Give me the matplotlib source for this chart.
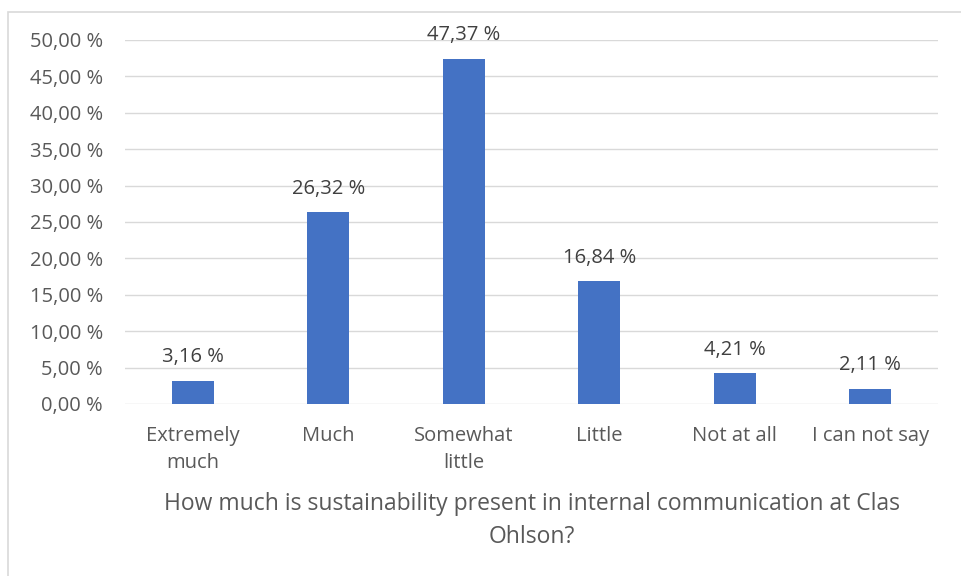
import matplotlib.pyplot as plt
from matplotlib.patches import Rectangle

categories = ['Extremely\nmuch', 'Much', 'Somewhat\nlittle', 'Little', 'Not at all', 'I can not say']
values = [3.16, 26.32, 47.37, 16.84, 4.21, 2.11]
yticks = [0, 5, 10, 15, 20, 25, 30, 35, 40, 45, 50]

plt.rcParams['font.family'] = ['Open Sans', 'DejaVu Sans']
txt = '#595959'

W, H = 961, 576
fig = plt.figure(figsize=(W / 100, H / 100), dpi=100)
fig.patches.append(Rectangle((8 / W, -0.1), 1.2, 1 - 12 / H + 0.1, transform=fig.transFigure,
                             fill=False, edgecolor='#d9d9d9', linewidth=1.2))

ax = fig.add_axes([125 / W, 1 - 404 / H, (938 - 125) / W, (404 - 40) / H])
x = range(len(categories))
ax.bar(x, values, width=0.31, color='#4472C4', zorder=3)
for i, v in enumerate(values):
    ax.text(i, v + 1.9, f'{v:.2f} %'.replace('.', ','), ha='center', va='bottom',
            fontsize=14.5, color='#404040')

ax.set_xlim(-0.5, len(categories) - 0.5)
ax.set_ylim(0, 50)
ax.set_yticks(yticks)
ax.set_yticklabels([f'{t:.2f} %'.replace('.', ',') for t in yticks], fontsize=14.5, color=txt)
ax.set_xticks(list(x))
ax.set_xticklabels(categories, fontsize=14.5, color=txt, linespacing=1.42)
ax.tick_params(axis='y', length=0, pad=16)
ax.tick_params(axis='x', length=0, pad=16)
ax.grid(axis='y', color='#d9d9d9', linewidth=1, zorder=0)
for s in ax.spines.values():
    s.set_visible(False)
ax.set_xlabel('How much is sustainability present in internal communication at Clas\nOhlson?',
              fontsize=16.5, color=txt, labelpad=14, linespacing=1.5)

fig.savefig('out.png', dpi=100)
